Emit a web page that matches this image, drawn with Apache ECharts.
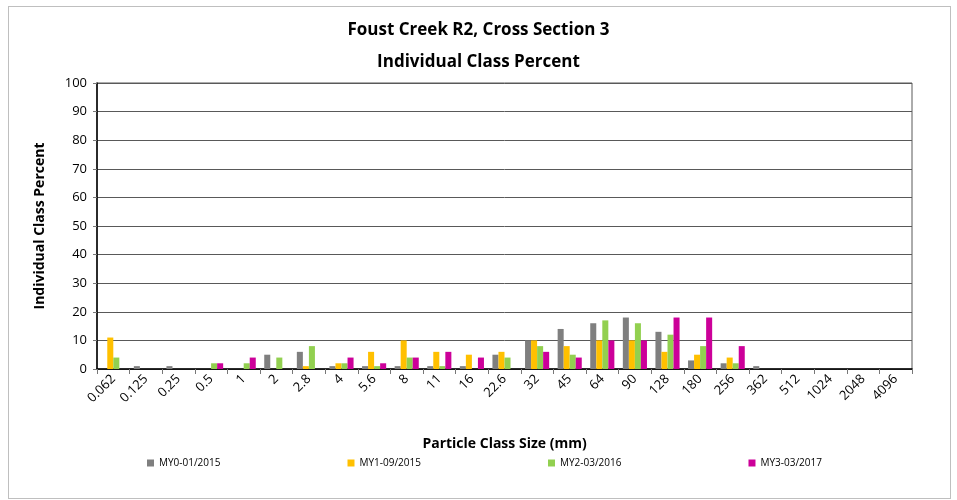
<!DOCTYPE html>
<html>
<head>
<meta charset="utf-8">
<script src="https://cdn.jsdelivr.net/npm/echarts@6/dist/echarts.min.js"></script>
<style>
html, body { margin: 0; padding: 0; background: #fff; }
.wrap { position: relative; width: 957px; height: 500px; }
.frame { position: absolute; left: 8px; top: 6px; width: 943px; height: 493px; border: 1px solid #bfbfbf; box-sizing: border-box; }
#chart { position: absolute; left: 0; top: 0; width: 957px; height: 500px; }
</style>
</head>
<body>
<div class="wrap">
  <div class="frame"></div>
  <div id="chart"></div>
</div>
<script>
// particle size classes (mm)
let sizes = ['0.062', '0.125', '0.25', '0.5', '1', '2', '2.8', '4', '5.6', '8', '11', '16', '22.6',
  '32', '45', '64', '90', '128', '180', '256', '362', '512', '1024', '2048', '4096']
let my0 = [0, 1, 1, 0, 0, 5, 6, 1, 1, 1, 1, 1, 5, 10, 14, 16, 18, 13, 3, 2, 1, 0, 0, 0, 0]
let my1 = [11, 0, 0, 0, 0, 0, 1, 2, 6, 10, 6, 5, 6, 10, 8, 10, 10, 6, 5, 4, 0, 0, 0, 0, 0]
let my2 = [4, 0, 0, 2, 2, 4, 8, 2, 1, 4, 1, 0, 4, 8, 5, 17, 16, 12, 8, 2, 0, 0, 0, 0, 0]
let my3 = [0, 0, 0, 2, 4, 0, 0, 4, 2, 4, 6, 4, 0, 6, 4, 10, 10, 18, 18, 8, 0, 0, 0, 0, 0]
let seriesNames = ['MY0-01/2015', 'MY1-09/2015', 'MY2-03/2016', 'MY3-03/2017']
let colors = ['#7f7f7f', '#ffc000', '#92d050', '#cc0099']

let chart = echarts.init(document.getElementById('chart'))
let font = 'Open Sans'
let bar = (name, data) => ({
  name: name,
  type: 'bar',
  data: data,
  barGap: '0%',
  barCategoryGap: '26%'
})
let option = {
  color: colors,
  textStyle: { fontFamily: font },
  title: [
    { text: 'Foust Creek R2, Cross Section 3', left: 'center', top: 17,
      textStyle: { fontFamily: font, fontSize: 17, fontWeight: 'bold', color: '#000' } },
    { text: 'Individual Class Percent', left: 'center', top: 49,
      textStyle: { fontFamily: font, fontSize: 17, fontWeight: 'bold', color: '#000' } }
  ],
  legend: {
    data: seriesNames,
    bottom: 27,
    left: 142,
    itemWidth: 7,
    itemHeight: 7,
    itemGap: 127,
    icon: 'rect',
    textStyle: { fontFamily: font, fontSize: 10, color: '#000' }
  },
  grid: {
    left: 97,
    right: 45,
    top: 83,
    bottom: 131,
    show: true,
    borderColor: '#595959',
    borderWidth: 1
  },
  xAxis: {
    type: 'category',
    data: sizes,
    name: 'Particle Class Size (mm)',
    nameLocation: 'middle',
    nameGap: 68,
    nameTextStyle: { fontFamily: font, fontSize: 14, fontWeight: 'bold', color: '#000' },
    axisLine: { lineStyle: { color: '#000', width: 1.5 } },
    axisTick: { show: true, length: 5, lineStyle: { color: '#777' } },
    axisLabel: { rotate: 45, fontSize: 13, color: '#000', margin: 8, interval: 0 },
    splitLine: { show: false }
  },
  yAxis: {
    type: 'value',
    min: 0,
    max: 100,
    interval: 10,
    name: 'Individual Class Percent',
    nameLocation: 'middle',
    nameGap: 50,
    nameTextStyle: { fontFamily: font, fontSize: 14, fontWeight: 'bold', color: '#000' },
    axisLine: { show: true, lineStyle: { color: '#000', width: 1.5 } },
    axisTick: { show: true, length: 4, lineStyle: { color: '#777' } },
    axisLabel: { fontSize: 13, color: '#000', margin: 10 },
    splitLine: { lineStyle: { color: '#595959', width: 1 } }
  },
  series: [
    bar(seriesNames[0], my0),
    bar(seriesNames[1], my1),
    bar(seriesNames[2], my2),
    bar(seriesNames[3], my3)
  ]
}
chart.setOption(option)
</script>
</body>
</html>
